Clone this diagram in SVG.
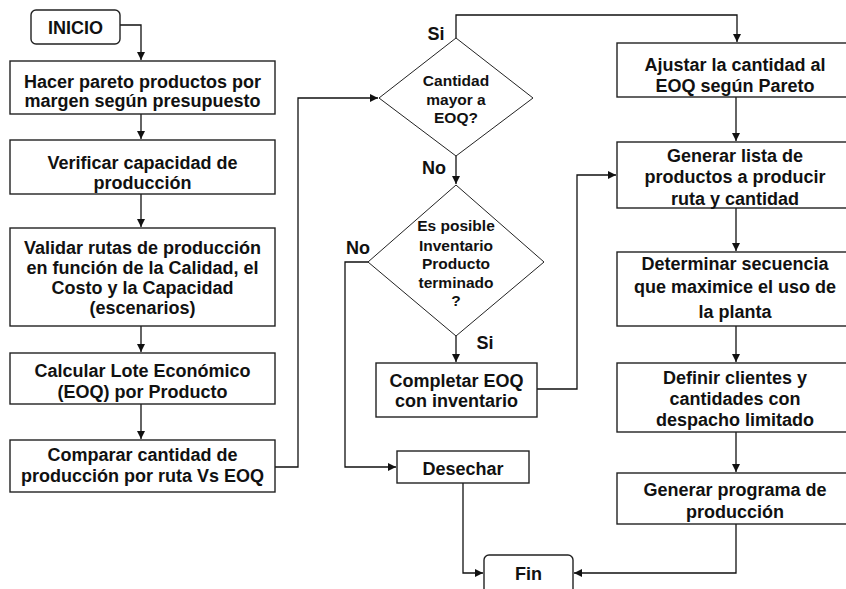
<svg xmlns="http://www.w3.org/2000/svg" width="846" height="589" viewBox="0 0 846 589">
<style>
.box{fill:#fff;stroke:#222;stroke-width:1.4}
.dia{fill:#fff;stroke:#222;stroke-width:1}
.t{font-family:"Liberation Sans",Arial,sans-serif;font-weight:bold;font-size:18px;fill:#111;text-anchor:middle}
.d{font-size:15.5px}
.c{fill:none;stroke:#111;stroke-width:1.3}
</style>
<defs>
<marker id="ah" markerWidth="9" markerHeight="8" refX="8" refY="4" orient="auto" markerUnits="userSpaceOnUse">
<path d="M0,0 L8,4 L0,8 Z" fill="#111"/>
</marker>
</defs>
<rect width="846" height="589" fill="#fff"/>
<g id="connectors">
<path class="c" d="M120,25 H141 V60" marker-end="url(#ah)"/>
<path class="c" d="M141,114 V139" marker-end="url(#ah)"/>
<path class="c" d="M141,194 V227" marker-end="url(#ah)"/>
<path class="c" d="M141,326 V352" marker-end="url(#ah)"/>
<path class="c" d="M141,404 V439" marker-end="url(#ah)"/>
<path class="c" d="M275,467 H298 V98 H378" marker-end="url(#ah)"/>
<path class="c" d="M456,38 V15 H737 V42" marker-end="url(#ah)"/>
<path class="c" d="M456,156 V184" marker-end="url(#ah)"/>
<path class="c" d="M368,262 H345 V467 H396" marker-end="url(#ah)"/>
<path class="c" d="M456,336 V362" marker-end="url(#ah)"/>
<path class="c" d="M537,389 H577 V175 H616" marker-end="url(#ah)"/>
<path class="c" d="M463,483 V573 H483" marker-end="url(#ah)"/>
<path class="c" d="M736,97 V141" marker-end="url(#ah)"/>
<path class="c" d="M736,208 V251" marker-end="url(#ah)"/>
<path class="c" d="M736,326 V362" marker-end="url(#ah)"/>
<path class="c" d="M736,432 V472" marker-end="url(#ah)"/>
<path class="c" d="M736,524 V573 H574" marker-end="url(#ah)"/>
</g>
<g id="inicio">
<rect class="box" x="31" y="10" width="89" height="34" rx="5"/>
<text class="t" x="75.5" y="33.5">INICIO</text>
</g>
<g id="hacer-pareto">
<rect class="box" x="10" y="61" width="265" height="53"/>
<text class="t" x="142.5" y="88">Hacer pareto productos por</text>
<text class="t" x="142.5" y="107">margen según presupuesto</text>
</g>
<g id="verificar">
<rect class="box" x="10" y="140" width="265" height="54"/>
<text class="t" x="142.5" y="169">Verificar capacidad de</text>
<text class="t" x="142.5" y="189">producción</text>
</g>
<g id="validar">
<rect class="box" x="10" y="228" width="265" height="98"/>
<text class="t" x="142.5" y="253.5">Validar rutas de producción</text>
<text class="t" x="142.5" y="273.5">en función de la Calidad, el</text>
<text class="t" x="142.5" y="293.5">Costo y la Capacidad</text>
<text class="t" x="142.5" y="313.5">(escenarios)</text>
</g>
<g id="calcular">
<rect class="box" x="10" y="353" width="265" height="51"/>
<text class="t" x="142.5" y="376.5">Calcular Lote Económico</text>
<text class="t" x="142.5" y="398">(EOQ) por Producto</text>
</g>
<g id="comparar">
<rect class="box" x="10" y="440" width="265" height="52"/>
<text class="t" x="142.5" y="461">Comparar cantidad de</text>
<text class="t" x="142.5" y="482">producción por ruta Vs EOQ</text>
</g>
<g id="decision-cantidad">
<polygon class="dia" points="456,38 533,98 456,156 379,98"/>
<text class="t d" x="456" y="86">Cantidad</text>
<text class="t d" x="456" y="105">mayor a</text>
<text class="t d" x="456" y="123">EOQ?</text>
</g>
<g id="decision-inventario">
<polygon class="dia" points="456,185 544,262 456,336 368,262"/>
<text class="t d" x="456" y="231">Es posible</text>
<text class="t d" x="456" y="250.5">Inventario</text>
<text class="t d" x="456" y="269">Producto</text>
<text class="t d" x="456" y="288">terminado</text>
<text class="t d" x="456" y="306">?</text>
</g>
<g id="labels">
<text class="t" x="436" y="39.5">Si</text>
<text class="t" x="434" y="173.5">No</text>
<text class="t" x="358" y="253.5">No</text>
<text class="t" x="485" y="348.5">Si</text>
</g>
<g id="completar">
<rect class="box" x="376" y="363" width="161" height="54"/>
<text class="t" x="456.5" y="386.5">Completar EOQ</text>
<text class="t" x="456.5" y="406.5">con inventario</text>
</g>
<g id="desechar">
<rect class="box" x="397" y="451" width="132" height="32"/>
<text class="t" x="463" y="474.5">Desechar</text>
</g>
<g id="fin">
<rect class="box" x="484" y="555" width="89" height="40" rx="5"/>
<text class="t" x="528.5" y="579.5">Fin</text>
</g>
<g id="ajustar">
<rect class="box" x="617" y="43" width="236" height="54"/>
<text class="t" x="735" y="70.5">Ajustar la cantidad al</text>
<text class="t" x="735" y="92">EOQ según Pareto</text>
</g>
<g id="generar-lista">
<rect class="box" x="617" y="142" width="236" height="66"/>
<text class="t" x="735" y="161.5">Generar lista de</text>
<text class="t" x="735" y="183">productos a producir</text>
<text class="t" x="735" y="204.5">ruta y cantidad</text>
</g>
<g id="determinar">
<rect class="box" x="617" y="252" width="236" height="74"/>
<text class="t" x="735" y="270">Determinar secuencia</text>
<text class="t" x="735" y="293">que maximice el uso de</text>
<text class="t" x="735" y="318">la planta</text>
</g>
<g id="definir">
<rect class="box" x="617" y="363" width="236" height="69"/>
<text class="t" x="735" y="383.5">Definir clientes y</text>
<text class="t" x="735" y="404.5">cantidades con</text>
<text class="t" x="735" y="426">despacho limitado</text>
</g>
<g id="generar-programa">
<rect class="box" x="617" y="473" width="236" height="51"/>
<text class="t" x="735" y="495.5">Generar programa de</text>
<text class="t" x="735" y="518">producción</text>
</g>
</svg>
